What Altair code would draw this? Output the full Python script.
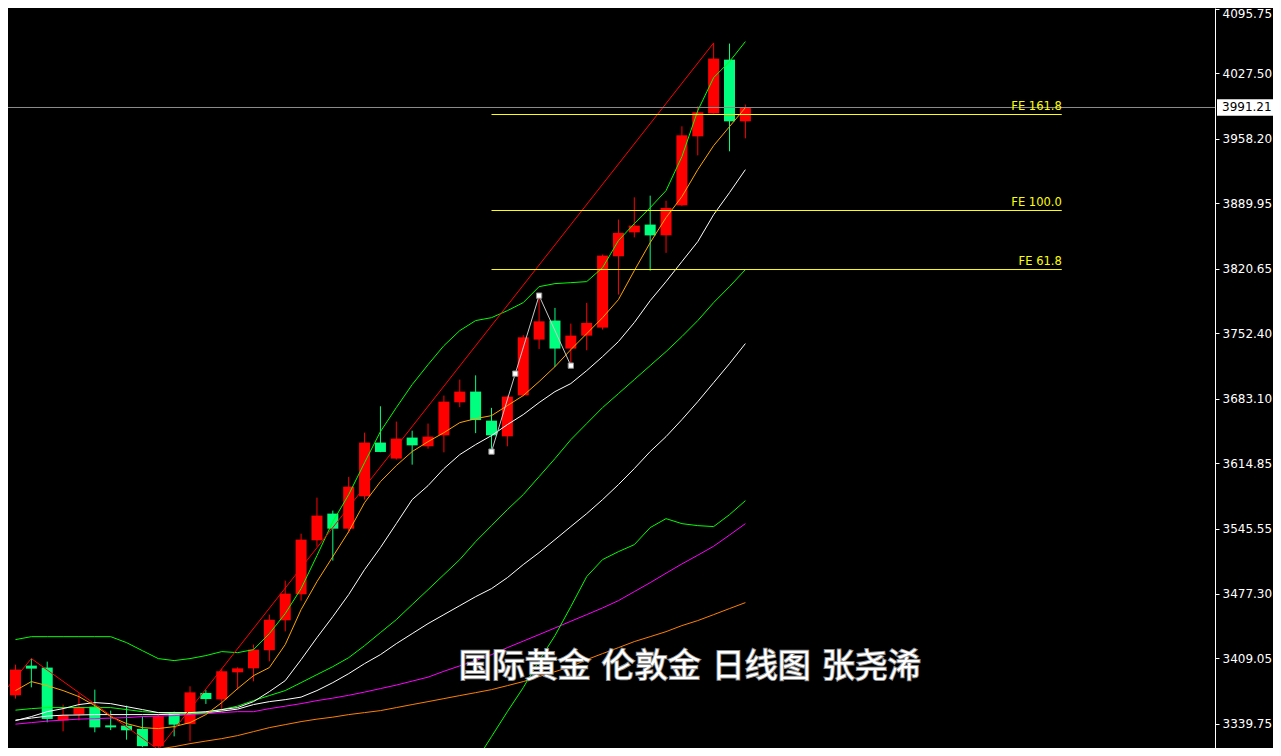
import altair as alt
import pandas as pd

# ---------------- data ----------------
candle_idx = list(range(47))
opens = [3369.7, 3401.1, 3399.0, 3343.2, 3349.3, 3357.7, 3337.9, 3337.6, 3334.2, 3315.8,
         3351.1, 3339.4, 3372.2, 3365.4, 3394.0, 3398.2, 3417.3, 3449.0, 3476.5, 3533.6,
         3561.8, 3545.9, 3580.1, 3636.9, 3620.0, 3642.2, 3633.0, 3644.6, 3679.5, 3690.8,
         3660.1, 3643.5, 3686.9, 3745.8, 3765.9, 3736.3, 3750.0, 3758.5, 3833.9, 3859.2,
         3867.4, 3856.1, 3887.8, 3960.7, 3985.0, 4041.8, 3976.6]
highs = [3402.1, 3408.5, 3405.3, 3359.8, 3371.5, 3375.7, 3353.5, 3358.8, 3347.5, 3349.3,
         3352.5, 3379.2, 3375.2, 3397.9, 3399.3, 3423.3, 3455.0, 3490.9, 3540.6, 3578.7,
         3565.0, 3600.6, 3647.4, 3675.3, 3659.1, 3649.5, 3657.0, 3686.6, 3703.5, 3708.0,
         3673.6, 3686.6, 3750.5, 3792.3, 3779.3, 3762.7, 3784.6, 3835.7, 3872.7, 3896.2,
         3898.0, 3892.7, 3971.3, 3992.4, 4059.5, 4058.8, 3994.3]
lows = [3366.2, 3378.1, 3341.1, 3331.6, 3343.2, 3330.6, 3332.9, 3322.8, 3314.9, 3312.3,
        3326.3, 3321.0, 3360.6, 3352.8, 3375.7, 3384.5, 3405.6, 3437.3, 3469.8, 3526.9,
        3512.1, 3541.4, 3576.6, 3626.8, 3618.9, 3613.6, 3630.5, 3626.6, 3674.4, 3646.9,
        3627.7, 3633.0, 3685.8, 3735.9, 3716.9, 3718.3, 3734.5, 3756.4, 3793.4, 3853.9,
        3818.7, 3837.5, 3886.9, 3940.6, 3984.7, 3944.9, 3958.6]
closes = [3396.9, 3397.9, 3344.7, 3348.5, 3357.4, 3335.8, 3335.8, 3332.7, 3315.9, 3347.5,
          3338.7, 3372.8, 3365.7, 3395.1, 3398.2, 3418.0, 3449.7, 3477.2, 3534.3, 3559.7,
          3545.9, 3590.3, 3636.9, 3627.0, 3641.1, 3634.0, 3643.2, 3680.2, 3690.8, 3660.7,
          3644.6, 3685.5, 3748.2, 3765.1, 3736.3, 3750.0, 3763.4, 3834.6, 3858.6, 3866.3,
          3856.0, 3885.0, 3961.8, 3986.1, 4042.9, 3976.6, 3991.21]

ma_orange_short = [3374.7, 3384.2, 3379.9, 3374.7, 3368.3, 3358.8, 3347.2, 3339.8, 3335.5, 3334.5,
                   3336.6, 3340.8, 3349.3, 3362.0, 3376.8, 3390.5, 3399.0, 3423.3, 3460.3, 3489.9,
                   3516.3, 3542.8, 3573.4, 3595.6, 3612.6, 3627.4, 3637.9, 3647.4, 3658.0, 3662.2,
                   3665.4, 3676.0, 3686.6, 3701.4, 3717.2, 3735.2, 3752.1, 3769.0, 3788.1, 3818.7,
                   3848.3, 3874.8, 3897.0, 3925.5, 3950.9, 3971.0, 3991.1]
bb_upper = [3428.6, 3431.7, 3431.7, 3431.7, 3431.7, 3431.7, 3431.7, 3425.4, 3416.9, 3408.5,
            3406.4, 3408.5, 3411.7, 3415.9, 3414.8, 3418.0, 3434.9, 3456.1, 3482.5, 3517.4,
            3553.3, 3581.9, 3615.7, 3648.5, 3673.9, 3698.2, 3719.3, 3739.4, 3755.3, 3765.9,
            3769.0, 3776.4, 3784.9, 3801.8, 3805.0, 3806.0, 3807.1, 3821.9, 3850.5, 3868.4,
            3885.3, 3903.3, 3939.3, 3987.9, 4022.8, 4039.7, 4060.9]
ma_green = [3354.0, 3355.6, 3356.7, 3356.7, 3356.7, 3356.7, 3356.7, 3354.6, 3352.4, 3351.4,
            3350.3, 3350.3, 3351.4, 3354.6, 3358.3, 3364.1, 3369.4, 3374.7, 3383.1, 3391.6,
            3400.0, 3409.5, 3422.2, 3436.0, 3449.7, 3465.6, 3481.4, 3497.3, 3513.2, 3532.2,
            3549.1, 3566.0, 3581.9, 3600.9, 3620.0, 3640.0, 3657.0, 3673.9, 3688.7, 3703.5,
            3718.3, 3733.1, 3749.0, 3765.9, 3784.9, 3801.8, 3819.8]
ma_white_1 = [3342.9, 3347.2, 3352.4, 3355.6, 3359.9, 3362.0, 3360.9, 3357.7, 3354.6, 3351.4,
              3351.4, 3351.4, 3352.4, 3354.6, 3356.7, 3363.0, 3373.6, 3385.2, 3407.4, 3430.7,
              3452.9, 3476.2, 3502.6, 3525.9, 3551.2, 3576.6, 3591.4, 3609.4, 3624.2, 3634.8,
              3644.3, 3655.9, 3666.5, 3679.2, 3690.8, 3699.3, 3713.0, 3727.8, 3743.7, 3763.8,
              3787.0, 3807.1, 3828.3, 3849.4, 3877.9, 3901.2, 3925.5]
ma_white_2 = [3343.5, 3345.6, 3347.7, 3348.7, 3348.9, 3349.3, 3349.3, 3349.3, 3349.3, 3349.3,
              3349.8, 3350.3, 3351.4, 3353.0, 3355.1, 3359.9, 3363.0, 3365.1, 3367.8, 3374.7,
              3383.1, 3392.6, 3403.2, 3412.7, 3424.3, 3434.9, 3445.5, 3455.0, 3464.5, 3474.0,
              3482.5, 3494.1, 3507.9, 3520.6, 3534.3, 3548.1, 3561.8, 3576.6, 3592.5, 3609.4,
              3627.4, 3643.2, 3661.2, 3680.2, 3700.3, 3720.4, 3741.6]
ma_magenta = [3339.2, 3340.8, 3342.4, 3343.5, 3344.5, 3345.0, 3345.6, 3346.1, 3347.2, 3347.7,
              3348.2, 3349.3, 3350.3, 3351.4, 3352.4, 3352.4, 3355.6, 3358.2, 3360.9, 3364.1,
              3366.7, 3369.7, 3373.1, 3376.8, 3380.5, 3384.7, 3388.9, 3395.1, 3400.8, 3406.4,
              3412.7, 3420.1, 3427.0, 3433.9, 3440.9, 3448.0, 3455.0, 3462.1, 3469.8, 3479.3,
              3488.8, 3498.8, 3508.6, 3517.8, 3527.3, 3539.1, 3551.2]
ma_orange_long_idx = list(range(6, 47))
ma_orange_long = [3304.9, 3308.0, 3310.2, 3312.8, 3315.4, 3318.6, 3321.3, 3323.9, 3327.1, 3331.3,
                  3335.5, 3338.7, 3341.9, 3344.5, 3346.6, 3349.3, 3351.4, 3353.5, 3356.7, 3359.9,
                  3363.0, 3366.2, 3369.4, 3372.5, 3375.7, 3379.9, 3384.2, 3389.5, 3394.7, 3400.0,
                  3407.4, 3413.8, 3420.1, 3426.5, 3431.7, 3437.0, 3443.4, 3448.7, 3455.0, 3461.4,
                  3467.7]
bb_lower_idx = list(range(29, 47))
bb_lower = [3299.6, 3326.0, 3352.4, 3377.8, 3406.4, 3432.8, 3463.5, 3495.2, 3513.2, 3521.6,
            3529.0, 3547.0, 3556.5, 3551.2, 3549.1, 3548.1, 3560.7, 3575.5]

zigzag_idx = [-1, 1, 9, 44]
zigzag_price = [3367.9, 3408.5, 3312.3, 4059.5]

fe_point_idx = [30, 31.5, 33, 35]
fe_point_price = [3627.35, 3709.8, 3792.3, 3718.3]
fe_levels = [3983.8, 3882.3, 3819.9]
fe_labels = ["FE 161.8", "FE 100.0", "FE 61.8"]
fe_start_idx = 30
fe_end_idx = 65.94

last_price = 3991.21
tick_values = [4095.75, 4027.50, 3958.20, 3889.95, 3820.65, 3752.40,
               3683.10, 3614.85, 3545.55, 3477.30, 3409.05, 3339.75]
title_text = "国际黄金\u2004伦敦金\u2004日线图\u2004张尧浠"
title_idx = 42.5
title_price = 3400.0

# ---------------- chart ----------------
W, H = 1207, 740
xscale = alt.Scale(domain=[-0.15625, 75.28125], nice=False, zero=False)
yscale = alt.Scale(domain=[3313.98, 4096.415], nice=False, zero=False)
yaxis = alt.Axis(orient="right", values=tick_values, format=".2f", title=None, grid=False,
                 domainColor="white", domainWidth=1, tickColor="white", tickSize=4, tickWidth=1,
                 labelColor="white", labelFont="DejaVu Sans", labelFontSize=12, labelPadding=3,
                 labelFlush=False, labelOverlap=False, labelAlign="left",
                 labelBaseline={"expr": "datum.value > 4090 ? 'top' : 'middle'"})


def X(f):
    return alt.X(f, type="quantitative", scale=xscale, axis=None)


def Y(f):
    return alt.Y(f, type="quantitative", scale=yscale, axis=yaxis)


candles = pd.DataFrame({"i": candle_idx, "open": opens, "high": highs, "low": lows, "close": closes})
candles["dir"] = ["up" if c >= o else "down" for o, c in zip(opens, closes)]
ccolor = alt.Color("dir:N", scale=alt.Scale(domain=["up", "down"], range=["#ff0000", "#00ff7f"]), legend=None)

wicks = alt.Chart(candles).mark_rule(strokeWidth=1).encode(x=X("i"), y=Y("low"), y2="high", color=ccolor)
bodies = alt.Chart(candles).mark_bar(size=11).encode(x=X("i"), y=Y("open"), y2="close", color=ccolor)

layers = [wicks, bodies]

line_specs = [
    (ma_orange_long_idx, ma_orange_long, "#ff8000"),
    (candle_idx, ma_magenta, "#ff00ff"),
    (bb_lower_idx, bb_lower, "#00ff00"),
    (candle_idx, ma_white_2, "#ffffff"),
    (candle_idx, ma_green, "#00ff00"),
    (candle_idx, ma_white_1, "#ffffff"),
    (candle_idx, bb_upper, "#00ff00"),
    (candle_idx, ma_orange_short, "#ffa500"),
]
for xs, ys, col in line_specs:
    df = pd.DataFrame({"i": xs, "v": ys})
    layers.append(alt.Chart(df).mark_line(color=col, strokeWidth=1).encode(x=X("i"), y=Y("v")))

zz = pd.DataFrame({"i": zigzag_idx, "v": zigzag_price})
layers.append(alt.Chart(zz).mark_line(color="#ff0000", strokeWidth=1).encode(x=X("i"), y=Y("v")))

# current price line
cur = pd.DataFrame({"p": [last_price]})
layers.append(alt.Chart(cur).mark_rule(color="#8c8c8c", strokeWidth=1).encode(y=Y("p")))

# FE levels
fe = pd.DataFrame({"p": fe_levels, "label": fe_labels,
                   "x0": [fe_start_idx] * 3, "x1": [fe_end_idx] * 3})
layers.append(alt.Chart(fe).mark_rule(color="#ffff00", strokeWidth=1).encode(x=X("x0"), x2="x1", y=Y("p")))
layers.append(alt.Chart(fe).mark_text(color="#ffff00", font="DejaVu Sans", fontSize=11.5,
                                      align="right", baseline="middle", dy=-8)
              .encode(x=X("x1"), y=Y("p"), text="label:N"))

# FE anchor zigzag
fep = pd.DataFrame({"i": fe_point_idx, "v": fe_point_price})
layers.append(alt.Chart(fep).mark_line(color="#c8c8c8", strokeWidth=1).encode(x=X("i"), y=Y("v")))
layers.append(alt.Chart(fep).mark_point(shape="square", filled=True, fill="white", stroke="#8c8c8c",
                                        strokeWidth=1, size=28, opacity=1).encode(x=X("i"), y=Y("v")))

# price box on axis
layers.append(alt.Chart(cur).mark_point(shape="M-1,-0.27L1,-0.27L1,0.27L-1,0.27Z", filled=True,
                                        color="white", size=3844, opacity=1)
              .encode(x=alt.value(1240), y=Y("p")))
layers.append(alt.Chart(cur).mark_text(color="black", font="DejaVu Sans", fontSize=12,
                                       align="left", baseline="middle")
              .encode(x=alt.value(1214), y=Y("p"), text=alt.Text("p:Q", format=".2f")))

# title text: grey outline underneath, white glyphs on top
tt = pd.DataFrame({"i": [title_idx], "v": [title_price], "t": [title_text]})
layers.append(alt.Chart(tt).mark_text(font="Noto Sans CJK SC", fontSize=33, fill="#8c8c8c",
                                      stroke="#8c8c8c", strokeWidth=2,
                                      align="center", baseline="middle")
              .encode(x=X("i"), y=Y("v"), text="t:N"))
layers.append(alt.Chart(tt).mark_text(font="Noto Sans CJK SC", fontSize=33, fill="white",
                                      align="center", baseline="middle")
              .encode(x=X("i"), y=Y("v"), text="t:N"))

chart = alt.layer(*layers).properties(
    width=W, height=H,
    padding={"left": 0, "top": 0, "right": 58, "bottom": 0},
    autosize=alt.AutoSizeParams(type="none"),
).configure(background="black").configure_view(stroke=None)

chart.save("out.html", embed_options={"renderer": "svg", "actions": False})
